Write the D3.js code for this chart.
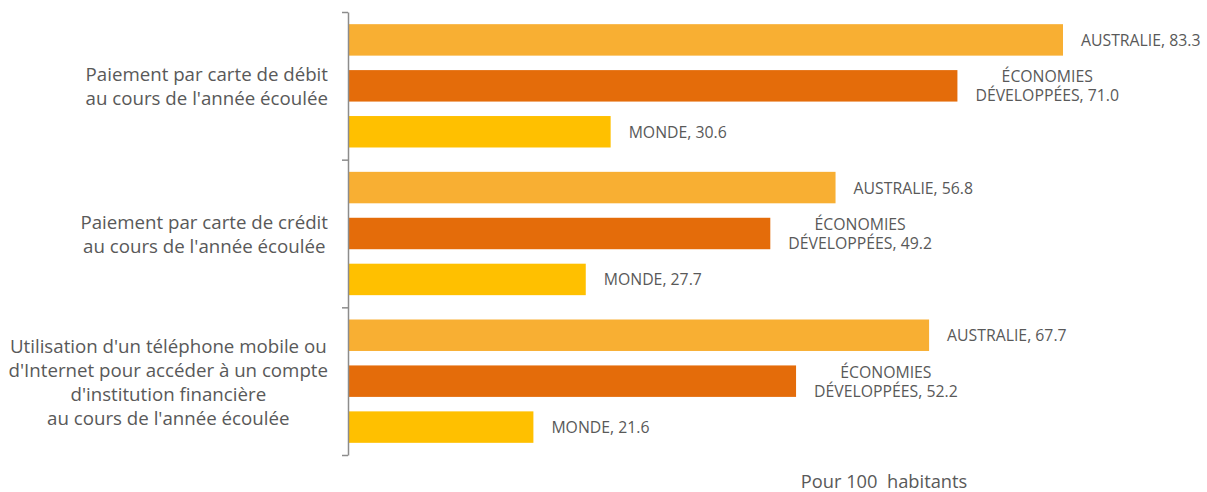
<!DOCTYPE html>
<html><head><meta charset="utf-8">
<script src="https://cdn.jsdelivr.net/npm/d3@7"></script>
<style>body{margin:0;background:#fff}svg{display:block}text{font-family:"Open Sans",sans-serif;fill:#595959}</style>
</head><body><svg id="c" width="1207" height="492"></svg>
<script>
const categories = [
  ["Paiement par carte de débit", "au cours de l'année écoulée"],
  ["Paiement par carte de crédit", "au cours de l'année écoulée"],
  ["Utilisation d'un téléphone mobile ou", "d'Internet pour accéder à un compte", "d'institution financière", "au cours de l'année écoulée"]
];
const seriesNames = ["AUSTRALIE", "ÉCONOMIES DÉVELOPPÉES", "MONDE"];
const seriesLabelLines = [["AUSTRALIE"], ["ÉCONOMIES", "DÉVELOPPÉES"], ["MONDE"]];
const australie = [83.3, 56.8, 67.7];
const economies = [71.0, 49.2, 52.2];
const monde = [30.6, 27.7, 21.6];
const colors = ["#F8AF33", "#E46C0A", "#FFC000"];
const xTitle = "Pour 100  habitants";

(function () {
const values = [australie, economies, monde];
const svg = d3.select("#c");
const x0 = 348, yTop = 12, yBottom = 455;
const x = d3.scaleLinear().domain([0, 83.3]).range([x0, 1063]);
const g = d3.scaleBand().domain(d3.range(categories.length)).range([yTop, yBottom]).padding(0);
const s = d3.scaleBand().domain(d3.range(3)).range([0, g.bandwidth()]).paddingInner(0.315).paddingOuter(0.265);
const yAxisScale = d3.scaleLinear().domain([0, 3]).range([yTop, yBottom]);

function multiline(lines, fs, lh, cy, anchorFn) {
  const t = svg.append("text").attr("font-size", fs).attr("text-anchor", "middle");
  const spans = lines.map((l, li) => t.append("tspan").attr("dominant-baseline", "central")
    .attr("y", cy + (li - (lines.length - 1) / 2) * lh).text(l));
  const w = d3.max(spans, sp => sp.node().getComputedTextLength());
  const cx = anchorFn(w);
  spans.forEach(sp => sp.attr("x", cx));
  return t;
}

categories.forEach((c, ci) => {
  values.forEach((vals, si) => {
    const v = vals[ci];
    const y = g(ci) + s(si);
    svg.append("rect").attr("x", x(0)).attr("y", y).attr("width", x(v) - x(0)).attr("height", s.bandwidth()).attr("fill", colors[si]);
    const lines = seriesLabelLines[si].slice();
    lines[lines.length - 1] += ", " + d3.format(".1f")(v);
    multiline(lines, 15.8, 19, y + s.bandwidth() / 2, w => x(v) + 18 + w / 2);
  });
  multiline(categories[ci], 18.7, 24, g(ci) + g.bandwidth() / 2, w => 328 - w / 2);
});

const ax = svg.append("g").attr("transform", `translate(${x0},0)`)
  .call(d3.axisLeft(yAxisScale).tickValues([0, 1, 2, 3]).tickFormat("").tickSize(6).tickSizeOuter(0));
ax.selectAll("path,line").attr("stroke", "#8c8c8c").attr("stroke-width", 1.5);

svg.append("text").attr("x", 884).attr("y", 488).attr("text-anchor", "middle").attr("font-size", 18.3)
  .style("white-space", "pre").text(xTitle);
})();
</script></body></html>
